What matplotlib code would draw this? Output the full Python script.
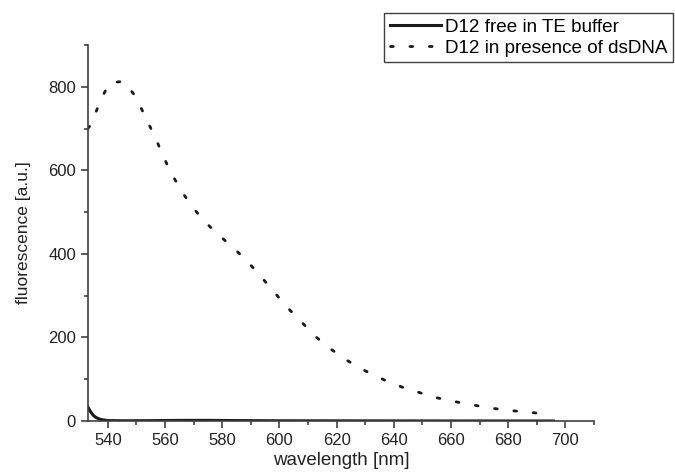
import numpy as np
import matplotlib.pyplot as plt
from matplotlib.ticker import MultipleLocator

# ----------------------------------
# Data
# ----------------------------------

wl_free = [533, 534, 535, 536, 537, 538, 540, 545, 555, 565, 575, 585, 600, 650, 695.8]
fl_free = [34, 22, 13, 8, 5, 3, 1, 0.5, 0.8, 1.5, 1.5, 1, 0.5, 0.2, 0]

wl_dna = [533, 534, 536, 538, 540.6, 545.3, 549.3, 551.8, 554.1, 556.5, 558.6,
          560.8, 563.3, 566.1, 569.4, 573.5, 578, 583, 588, 593, 598, 603, 608,
          613, 618, 623, 628, 633, 638, 644.1, 649, 654, 658.9, 663.8, 668.8,
          673.7, 678.6, 683.6, 688.5, 693.4]
fl_dna = [700, 708, 742, 775, 809, 813, 781, 747, 714, 680, 647,
          613, 580, 547, 514, 480, 450, 420, 388, 350, 310, 270, 235,
          200, 172, 148, 127, 110, 94, 78, 68, 57, 50, 43, 37,
          31, 27, 23, 20, 17]

labels = ['D12 free in TE buffer', 'D12 in presence of dsDNA']

# ----------------------------------
# Plot
# ----------------------------------

plt.rcParams['font.family'] = ['Liberation Sans', 'DejaVu Sans']

fig = plt.figure(figsize=(6.75, 4.75), dpi=100)
ax = fig.add_axes([0.130, 0.1137, 0.750, 0.7916])

ax.plot(wl_free, fl_free, color='#1a1a1a', lw=2.2, label=labels[0])
ax.plot(wl_dna, fl_dna, color='#1a1a1a', lw=2, linestyle=(0, (1, 6)),
        dash_capstyle='round', label=labels[1])

ax.set_xlim(533, 710)
ax.set_ylim(0, 900)
ax.xaxis.set_major_locator(MultipleLocator(20))
ax.xaxis.set_minor_locator(MultipleLocator(10))
ax.yaxis.set_major_locator(MultipleLocator(200))
ax.yaxis.set_minor_locator(MultipleLocator(100))

for side in ['top', 'right']:
    ax.spines[side].set_visible(False)
for side in ['left', 'bottom']:
    ax.spines[side].set_color('#404040')
    ax.spines[side].set_linewidth(1.2)

ax.tick_params(which='both', direction='out', colors='#404040', width=1.2,
               labelcolor='#222222', labelsize=12)
ax.tick_params(which='major', length=5)
ax.tick_params(which='minor', length=3)

ax.set_xlabel('wavelength [nm]', fontsize=13.5, color='#222222', labelpad=3)
ax.set_ylabel('fluorescence [a.u.]', fontsize=12.5, color='#222222', labelpad=12)

leg = ax.legend(loc='upper right', bbox_to_anchor=(0.997, 0.973),
                bbox_transform=fig.transFigure, fontsize=13.6, frameon=True,
                fancybox=False, edgecolor='#404040', framealpha=1,
                borderpad=0.3, labelspacing=0.2, handlelength=2.7,
                handletextpad=0.2, borderaxespad=0)
leg.get_frame().set_linewidth(1.0)

fig.savefig('out.png', dpi=100)
